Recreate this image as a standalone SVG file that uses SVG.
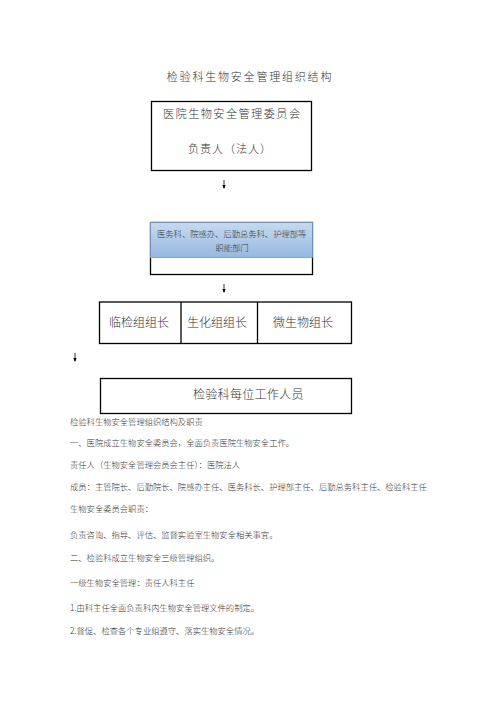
<svg xmlns="http://www.w3.org/2000/svg" width="496" height="702" viewBox="0 0 496 702">
<defs>
<style>
text{font-family:"Noto Sans CJK SC","Noto Sans",sans-serif;fill:#333;font-weight:300;}
.box{fill:#fff;stroke:#000;stroke-width:1.3;}
.b{font-size:8.3px;}
.t{font-size:11.2px;}
.c{stroke:#000;stroke-width:0.8;fill:none;}
</style>
<linearGradient id="bg" x1="0" y1="0" x2="0" y2="1">
<stop offset="0" stop-color="#c6daef"/>
<stop offset="1" stop-color="#97b8df"/>
</linearGradient>
</defs>
<rect width="496" height="702" fill="#fff"/>
<text x="250" y="81" font-size="11" letter-spacing="1.8" text-anchor="middle">检验科生物安全管理组织结构</text>

<g id="committee">
<rect class="box" x="151.5" y="101.5" width="160" height="69"/>
<text class="t" x="163" y="118" letter-spacing="1.4">医院生物安全管理委员会</text>
<text class="t" x="188" y="153" letter-spacing="0.8">负责人（法人）</text>
</g>

<g id="departments">
<rect class="box" x="150.5" y="222.5" width="162" height="52"/>
<rect x="150.5" y="222.5" width="162" height="35" fill="url(#bg)" stroke="#7b9cc8" stroke-width="0.8"/>
<text class="b" x="157" y="237">医务科、院感办、后勤总务科、护理部等</text>
<text class="b" x="232" y="251" text-anchor="middle">职能部门</text>
</g>

<g id="leaders">
<rect class="box" x="99.5" y="302" width="252" height="41.5"/>
<line x1="181" y1="302" x2="181" y2="343.5" stroke="#000" stroke-width="1.3"/>
<line x1="257.5" y1="302" x2="257.5" y2="343.5" stroke="#000" stroke-width="1.3"/>
<text x="109" y="327" font-size="12">临检组组长</text>
<text x="187" y="327" font-size="12">生化组组长</text>
<text x="273" y="327" font-size="12">微生物组长</text>
</g>

<g id="staff">
<rect class="box" x="100.5" y="378.5" width="251" height="35"/>
<text x="193" y="399" font-size="12" letter-spacing="0.3">检验科每位工作人员</text>
</g>

<g id="connectors">
<line class="c" x1="224" y1="180" x2="224" y2="188"/>
<path d="M222.3,185 L224,189 L225.7,185 Z" fill="#000"/>
<line class="c" x1="224" y1="284" x2="224" y2="292"/>
<path d="M222.3,289 L224,293 L225.7,289 Z" fill="#000"/>
<line class="c" x1="75" y1="353" x2="75" y2="361"/>
<path d="M73.3,358 L75,362 L76.7,358 Z" fill="#000"/>
</g>

<g id="body">
<text class="b" x="70" y="425">检验科生物安全管理组织结构及职责</text>
<text class="b" x="70" y="446">一、医院成立生物安全委员会，全面负责医院生物安全工作。</text>
<text class="b" x="70" y="468">责任人（生物安全管理会员会主任）：医院法人</text>
<text class="b" x="70" y="490">成员：主管院长、后勤院长、院感办主任、医务科长、护理部主任、后勤总务科主任、检验科主任</text>
<text class="b" x="70" y="512">生物安全委员会职责：</text>
<text class="b" x="70" y="538">负责咨询、指导、评估、监督实验室生物安全相关事宜。</text>
<text class="b" x="70" y="561">二、检验科成立生物安全三级管理组织。</text>
<text class="b" x="70" y="586">一级生物安全管理：责任人科主任</text>
<text class="b" x="70" y="611">1.由科主任全面负责科内生物安全管理文件的制定。</text>
<text class="b" x="70" y="634">2.督促、检查各个专业组遵守、落实生物安全情况。</text>
</g>
</svg>
